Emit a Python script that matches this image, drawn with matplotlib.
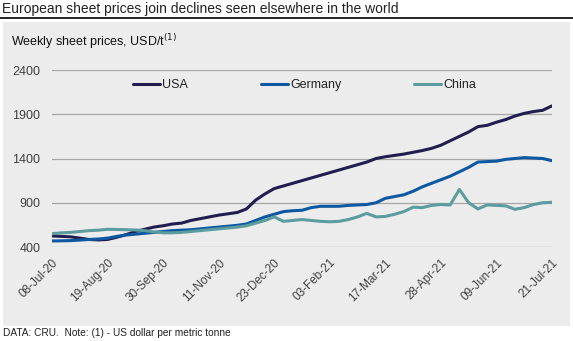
import numpy as np
import pandas as pd
import matplotlib
matplotlib.use("Agg")
import matplotlib.pyplot as plt
import matplotlib.dates as mdates
from matplotlib.patches import Rectangle
from matplotlib.lines import Line2D

plt.rcParams['font.family'] = ['Liberation Sans', 'DejaVu Sans']

# weekly prices, USD/t, 08-Jul-20 .. 21-Jul-21
weeks = pd.date_range('2020-07-08', periods=55, freq='7D')

usa = [525, 520, 515, 500, 485, 480, 485, 510, 540, 575, 600, 625, 640, 660,
       670, 700, 720, 740, 760, 775, 790, 830, 930, 1000, 1060, 1090, 1120,
       1150, 1180, 1210, 1240, 1270, 1300, 1330, 1360, 1400, 1420, 1435, 1450,
       1470, 1490, 1515, 1550, 1600, 1650, 1700, 1760, 1775, 1810, 1840, 1880,
       1910, 1930, 1945, 1995]

germany = [468, 470, 472, 478, 485, 490, 500, 520, 535, 545, 555, 565, 575,
           585, 590, 595, 605, 615, 625, 635, 645, 660, 700, 740, 770, 800,
           810, 815, 845, 860, 860, 860, 870, 875, 880, 900, 950, 970, 990,
           1030, 1080, 1120, 1160, 1200, 1250, 1300, 1360, 1365, 1370, 1390,
           1400, 1410, 1405, 1400, 1375]

china = [550, 560, 565, 575, 585, 590, 600, 598, 595, 592, 585, 570, 560, 560,
         565, 575, 585, 595, 605, 615, 625, 640, 670, 700, 740, 690, 700, 710,
         700, 690, 685, 690, 710, 740, 780, 740, 745, 770, 800, 850, 845, 870,
         880, 875, 1050, 900, 830, 875, 870, 865, 826, 845, 880, 900, 905]

series = {'USA': (usa, '#221d4f'),
          'Germany': (germany, '#0d58a0'),
          'China': (china, '#5b9c9e')}

W, H = 573, 341
fig = plt.figure(figsize=(W / 100, H / 100), dpi=100)
fig.patch.set_facecolor('white')

# grey panel behind the chart
fig.patches.append(Rectangle((3 / W, 1 - 326 / H), 567 / W, 304 / H,
                             transform=fig.transFigure, facecolor='#ececec',
                             edgecolor='none', zorder=-10))
# rule under the title
fig.lines.append(Line2D([0, 1], [1 - 18 / H, 1 - 18 / H], transform=fig.transFigure,
                        color='black', lw=1.2, zorder=-5))

fig.text(2 / W, 1 - 9 / H, 'European sheet prices join declines seen elsewhere in the world',
         fontsize=10, color='#222222', va='center', ha='left')
fig.text(11 / W, 1 - 42 / H, 'Weekly sheet prices, USD/t$^{(1)}$',
         fontsize=9, color='#111111', va='center', ha='left')
fig.text(3 / W, 1 - 333 / H, 'DATA: CRU.  Note: (1) - US dollar per metric tonne',
         fontsize=7.3, color='#222222', va='center', ha='left')

ax = fig.add_axes([52 / W, 1 - 247 / H, 500 / W, 177 / H])
ax.set_facecolor('none')
ax.set_zorder(2)

for name, (vals, col) in series.items():
    ax.plot(weeks, vals, color=col, lw=2.2, label=name, solid_capstyle='round')

ax.set_ylim(400, 2400)
ax.set_yticks([400, 900, 1400, 1900, 2400])
ax.set_xlim(weeks[0], weeks[-1])
ax.set_xticks(weeks[::6])
ax.xaxis.set_major_formatter(mdates.DateFormatter('%d-%b-%y'))
ax.grid(axis='y', color='#a6a6a6', lw=0.9)
ax.set_axisbelow(True)
for s in ax.spines.values():
    s.set_visible(False)
ax.tick_params(length=0, labelsize=9, colors='#404040')
ax.tick_params(axis='y', pad=8.5)
ax.tick_params(axis='x', pad=7)
plt.setp(ax.get_xticklabels(), rotation=45, ha='right', rotation_mode='anchor', fontsize=8.5)

ax.legend(loc='center', bbox_to_anchor=(0.505, 0.915), ncol=3, frameon=False,
          fontsize=9, handlelength=2.2, handletextpad=0.15, columnspacing=5.8,
          labelcolor='#222222')

fig.savefig('out.png', dpi=100)
